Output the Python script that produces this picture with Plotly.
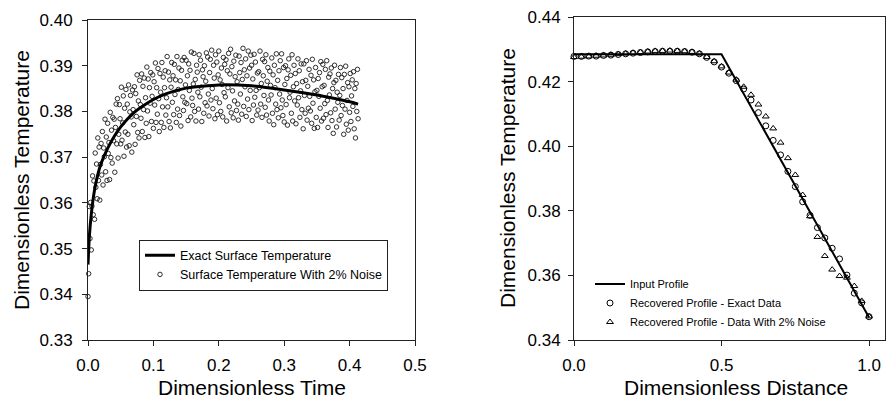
import plotly.graph_objects as go

FONT = "Liberation Sans, Arial, Helvetica, sans-serif"

# ---------------- Left panel: surface temperature vs time ----------------
t_exact = [0.000, 0.002, 0.005, 0.010, 0.015, 0.020, 0.030, 0.040, 0.050, 0.060,
           0.070, 0.080, 0.100, 0.120, 0.150, 0.200, 0.250, 0.300, 0.350, 0.400, 0.413]
y_exact = [0.3465, 0.3525, 0.3575, 0.3628, 0.3662, 0.3686, 0.3719, 0.3745, 0.3766, 0.3783,
           0.3797, 0.3808, 0.3826, 0.3839, 0.3851, 0.3858, 0.3856, 0.3847, 0.3836, 0.3821, 0.3816]

t_noise = [
    0.000, 0.001, 0.002, 0.003, 0.004, 0.005, 0.006, 0.007, 0.008, 0.009,
    0.010, 0.011, 0.012, 0.013, 0.014, 0.015, 0.016, 0.017, 0.018, 0.019,
    0.020, 0.021, 0.022, 0.023, 0.024, 0.025, 0.026, 0.027, 0.028, 0.029,
    0.030, 0.031, 0.032, 0.033, 0.034, 0.035, 0.036, 0.037, 0.038, 0.039,
    0.040, 0.041, 0.042, 0.043, 0.044, 0.045, 0.046, 0.047, 0.048, 0.049,
    0.050, 0.051, 0.052, 0.053, 0.054, 0.055, 0.056, 0.057, 0.058, 0.059,
    0.060, 0.061, 0.062, 0.063, 0.064, 0.065, 0.066, 0.067, 0.068, 0.069,
    0.070, 0.071, 0.072, 0.073, 0.074, 0.075, 0.076, 0.077, 0.078, 0.079,
    0.080, 0.081, 0.082, 0.083, 0.084, 0.085, 0.086, 0.087, 0.088, 0.089,
    0.090, 0.091, 0.092, 0.093, 0.094, 0.095, 0.096, 0.097, 0.098, 0.099,
    0.100, 0.101, 0.102, 0.103, 0.104, 0.105, 0.106, 0.107, 0.108, 0.109,
    0.110, 0.111, 0.112, 0.113, 0.114, 0.115, 0.116, 0.117, 0.118, 0.119,
    0.120, 0.121, 0.122, 0.123, 0.124, 0.125, 0.126, 0.127, 0.128, 0.129,
    0.130, 0.131, 0.132, 0.133, 0.134, 0.135, 0.136, 0.137, 0.138, 0.139,
    0.140, 0.141, 0.142, 0.143, 0.144, 0.145, 0.146, 0.147, 0.148, 0.149,
    0.150, 0.151, 0.152, 0.153, 0.154, 0.155, 0.156, 0.157, 0.158, 0.159,
    0.160, 0.161, 0.162, 0.163, 0.164, 0.165, 0.166, 0.167, 0.168, 0.169,
    0.170, 0.171, 0.172, 0.173, 0.174, 0.175, 0.176, 0.177, 0.178, 0.179,
    0.180, 0.181, 0.182, 0.183, 0.184, 0.185, 0.186, 0.187, 0.188, 0.189,
    0.190, 0.191, 0.192, 0.193, 0.194, 0.195, 0.196, 0.197, 0.198, 0.199,
    0.200, 0.201, 0.202, 0.203, 0.204, 0.205, 0.206, 0.207, 0.208, 0.209,
    0.210, 0.211, 0.212, 0.213, 0.214, 0.215, 0.216, 0.217, 0.218, 0.219,
    0.220, 0.221, 0.222, 0.223, 0.224, 0.225, 0.226, 0.227, 0.228, 0.229,
    0.230, 0.231, 0.232, 0.233, 0.234, 0.235, 0.236, 0.237, 0.238, 0.239,
    0.240, 0.241, 0.242, 0.243, 0.244, 0.245, 0.246, 0.247, 0.248, 0.249,
    0.250, 0.251, 0.252, 0.253, 0.254, 0.255, 0.256, 0.257, 0.258, 0.259,
    0.260, 0.261, 0.262, 0.263, 0.264, 0.265, 0.266, 0.267, 0.268, 0.269,
    0.270, 0.271, 0.272, 0.273, 0.274, 0.275, 0.276, 0.277, 0.278, 0.279,
    0.280, 0.281, 0.282, 0.283, 0.284, 0.285, 0.286, 0.287, 0.288, 0.289,
    0.290, 0.291, 0.292, 0.293, 0.294, 0.295, 0.296, 0.297, 0.298, 0.299,
    0.300, 0.301, 0.302, 0.303, 0.304, 0.305, 0.306, 0.307, 0.308, 0.309,
    0.310, 0.311, 0.312, 0.313, 0.314, 0.315, 0.316, 0.317, 0.318, 0.319,
    0.320, 0.321, 0.322, 0.323, 0.324, 0.325, 0.326, 0.327, 0.328, 0.329,
    0.330, 0.331, 0.332, 0.333, 0.334, 0.335, 0.336, 0.337, 0.338, 0.339,
    0.340, 0.341, 0.342, 0.343, 0.344, 0.345, 0.346, 0.347, 0.348, 0.349,
    0.350, 0.351, 0.352, 0.353, 0.354, 0.355, 0.356, 0.357, 0.358, 0.359,
    0.360, 0.361, 0.362, 0.363, 0.364, 0.365, 0.366, 0.367, 0.368, 0.369,
    0.370, 0.371, 0.372, 0.373, 0.374, 0.375, 0.376, 0.377, 0.378, 0.379,
    0.380, 0.381, 0.382, 0.383, 0.384, 0.385, 0.386, 0.387, 0.388, 0.389,
    0.390, 0.391, 0.392, 0.393, 0.394, 0.395, 0.396, 0.397, 0.398, 0.399,
    0.400, 0.401, 0.402, 0.403, 0.404, 0.405, 0.406, 0.407, 0.408, 0.409,
    0.410, 0.411, 0.412, 0.413,
]
y_noise = [
    0.3395, 0.3445, 0.3592, 0.3522, 0.3601, 0.3497, 0.3593, 0.3659, 0.3574, 0.3648,
    0.3564, 0.3709, 0.3634, 0.3685, 0.3609, 0.3742, 0.3649, 0.3722, 0.3606, 0.3684,
    0.3730, 0.3661, 0.3756, 0.3639, 0.3720, 0.3701, 0.3783, 0.3668, 0.3744, 0.3649,
    0.3774, 0.3708, 0.3732, 0.3651, 0.3798, 0.3699, 0.3759, 0.3687, 0.3787, 0.3736,
    0.3783, 0.3667, 0.3765, 0.3816, 0.3729, 0.3828, 0.3698, 0.3750, 0.3815, 0.3784,
    0.3729, 0.3853, 0.3737, 0.3775, 0.3834, 0.3702, 0.3807, 0.3755, 0.3848, 0.3722,
    0.3816, 0.3750, 0.3858, 0.3725, 0.3799, 0.3835, 0.3788, 0.3711, 0.3847, 0.3804,
    0.3771, 0.3854, 0.3728, 0.3839, 0.3789, 0.3880, 0.3754, 0.3823, 0.3742, 0.3868,
    0.3815, 0.3785, 0.3882, 0.3756, 0.3855, 0.3804, 0.3873, 0.3743, 0.3830, 0.3774,
    0.3897, 0.3801, 0.3871, 0.3745, 0.3852, 0.3818, 0.3885, 0.3778, 0.3833, 0.3880,
    0.3763, 0.3865, 0.3814, 0.3906, 0.3776, 0.3852, 0.3794, 0.3894, 0.3828, 0.3756,
    0.3883, 0.3842, 0.3776, 0.3907, 0.3810, 0.3875, 0.3765, 0.3852, 0.3889, 0.3792,
    0.3830, 0.3920, 0.3810, 0.3886, 0.3778, 0.3869, 0.3764, 0.3853, 0.3907, 0.3820,
    0.3878, 0.3793, 0.3903, 0.3837, 0.3869, 0.3776, 0.3920, 0.3805, 0.3848, 0.3895,
    0.3791, 0.3867, 0.3768, 0.3890, 0.3912, 0.3832, 0.3802, 0.3918, 0.3820, 0.3858,
    0.3912, 0.3817, 0.3878, 0.3780, 0.3904, 0.3846, 0.3890, 0.3788, 0.3930, 0.3829,
    0.3813, 0.3860, 0.3927, 0.3800, 0.3870, 0.3779, 0.3901, 0.3886, 0.3842, 0.3805,
    0.3924, 0.3832, 0.3912, 0.3853, 0.3778, 0.3891, 0.3876, 0.3796, 0.3900, 0.3819,
    0.3866, 0.3928, 0.3812, 0.3919, 0.3838, 0.3790, 0.3885, 0.3914, 0.3825, 0.3934,
    0.3850, 0.3806, 0.3901, 0.3873, 0.3784, 0.3924, 0.3829, 0.3908, 0.3793, 0.3880,
    0.3932, 0.3819, 0.3869, 0.3800, 0.3895, 0.3859, 0.3788, 0.3918, 0.3841, 0.3903,
    0.3832, 0.3913, 0.3779, 0.3889, 0.3852, 0.3927, 0.3810, 0.3882, 0.3936, 0.3797,
    0.3898, 0.3845, 0.3786, 0.3910, 0.3823, 0.3876, 0.3923, 0.3802, 0.3865, 0.3816,
    0.3781, 0.3921, 0.3885, 0.3838, 0.3907, 0.3794, 0.3870, 0.3938, 0.3811, 0.3891,
    0.3854, 0.3915, 0.3789, 0.3878, 0.3827, 0.3932, 0.3804, 0.3895, 0.3846, 0.3923,
    0.3901, 0.3780, 0.3871, 0.3814, 0.3925, 0.3831, 0.3908, 0.3846, 0.3792, 0.3884,
    0.3803, 0.3887, 0.3852, 0.3932, 0.3816, 0.3861, 0.3787, 0.3914, 0.3878, 0.3835,
    0.3909, 0.3809, 0.3924, 0.3792, 0.3866, 0.3896, 0.3825, 0.3779, 0.3888, 0.3857,
    0.3836, 0.3917, 0.3796, 0.3880, 0.3771, 0.3901, 0.3852, 0.3816, 0.3926, 0.3804,
    0.3868, 0.3786, 0.3889, 0.3838, 0.3911, 0.3808, 0.3926, 0.3825, 0.3791, 0.3896,
    0.3777, 0.3859, 0.3900, 0.3815, 0.3872, 0.3770, 0.3891, 0.3915, 0.3830, 0.3842,
    0.3879, 0.3796, 0.3924, 0.3779, 0.3854, 0.3901, 0.3823, 0.3883, 0.3773, 0.3861,
    0.3814, 0.3915, 0.3830, 0.3889, 0.3787, 0.3845, 0.3904, 0.3804, 0.3865, 0.3762,
    0.3904, 0.3835, 0.3796, 0.3868, 0.3911, 0.3781, 0.3855, 0.3807, 0.3892, 0.3833,
    0.3801, 0.3879, 0.3774, 0.3914, 0.3818, 0.3869, 0.3763, 0.3843, 0.3896, 0.3787,
    0.3846, 0.3765, 0.3872, 0.3833, 0.3885, 0.3807, 0.3909, 0.3779, 0.3854, 0.3903,
    0.3785, 0.3857, 0.3817, 0.3892, 0.3793, 0.3911, 0.3824, 0.3765, 0.3875, 0.3836,
    0.3882, 0.3797, 0.3895, 0.3780, 0.3850, 0.3752, 0.3863, 0.3901, 0.3805, 0.3868,
    0.3766, 0.3842, 0.3820, 0.3881, 0.3781, 0.3835, 0.3896, 0.3791, 0.3874, 0.3813,
    0.3850, 0.3750, 0.3881, 0.3805, 0.3899, 0.3772, 0.3824, 0.3863, 0.3759, 0.3854,
    0.3798, 0.3883, 0.3778, 0.3834, 0.3869, 0.3811, 0.3887, 0.3762, 0.3850, 0.3742,
    0.3861, 0.3800, 0.3892, 0.3784,
]

# ---------------- Right panel: recovered profile vs distance ----------------
x_profile = [0.0, 0.5, 1.0]
y_profile = [0.4285, 0.4285, 0.3470]

x_rec = [0.000, 0.025, 0.050, 0.075, 0.100, 0.125, 0.150, 0.175, 0.200, 0.225,
         0.250, 0.275, 0.300, 0.325, 0.350, 0.375, 0.400, 0.425, 0.450, 0.475,
         0.500, 0.525, 0.550, 0.575, 0.600, 0.625, 0.650, 0.675, 0.700, 0.725,
         0.750, 0.775, 0.800, 0.825, 0.850, 0.875, 0.900, 0.925, 0.950, 0.975, 1.000]
y_rec_exact = [0.4278, 0.4278, 0.4279, 0.4279, 0.4281, 0.4282, 0.4284, 0.4286, 0.4288, 0.4290,
               0.4292, 0.4293, 0.4294, 0.4294, 0.4294, 0.4293, 0.4291, 0.4286, 0.4275, 0.4261,
               0.4245, 0.4226, 0.4203, 0.4177, 0.4143, 0.4104, 0.4063, 0.4018, 0.3973, 0.3922,
               0.3875, 0.3828, 0.3786, 0.3748, 0.3716, 0.3684, 0.3651, 0.3601, 0.3545, 0.3515, 0.3472]
y_rec_noise = [0.4276, 0.4277, 0.4278, 0.4280, 0.4281, 0.4283, 0.4285, 0.4287, 0.4289, 0.4291,
               0.4293, 0.4295, 0.4295, 0.4296, 0.4295, 0.4294, 0.4292, 0.4287, 0.4276, 0.4263,
               0.4247, 0.4228, 0.4206, 0.4184, 0.4159, 0.4129, 0.4092, 0.4055, 0.4011, 0.3963,
               0.3911, 0.3849, 0.3783, 0.3719, 0.3660, 0.3618, 0.3598, 0.3593, 0.3567, 0.3521, 0.3473]

W, H = 891, 402

fig = go.Figure()

fig.add_trace(go.Scatter(
    x=t_noise, y=y_noise, mode="markers", name="Surface Temperature With 2% Noise",
    marker=dict(symbol="circle-open", size=4.5, color="#1a1a1a", line=dict(width=0.9)),
    xaxis="x", yaxis="y", legend="legend", legendrank=2, cliponaxis=False,
))
fig.add_trace(go.Scatter(
    x=t_exact, y=y_exact, mode="lines", name="Exact Surface Temperature",
    line=dict(color="black", width=3, shape="spline", smoothing=0.6),
    xaxis="x", yaxis="y", legend="legend", legendrank=1,
))

fig.add_trace(go.Scatter(
    x=x_profile, y=y_profile, mode="lines", name="Input Profile",
    line=dict(color="black", width=2),
    xaxis="x2", yaxis="y2", legend="legend2", legendrank=1,
))
fig.add_trace(go.Scatter(
    x=x_rec, y=y_rec_exact, mode="markers", name="Recovered Profile - Exact Data",
    marker=dict(symbol="circle-open", size=6, color="black", line=dict(width=1)),
    xaxis="x2", yaxis="y2", legend="legend2", legendrank=2, cliponaxis=False,
))
fig.add_trace(go.Scatter(
    x=x_rec, y=y_rec_noise, mode="markers", name="Recovered Profile - Data With 2% Noise",
    marker=dict(symbol="triangle-up-open", size=6, color="black", line=dict(width=1)),
    xaxis="x2", yaxis="y2", legend="legend2", legendrank=3, cliponaxis=False,
))

axis_common = dict(
    showline=True, mirror=True, linecolor="#222", linewidth=1,
    ticks="outside", ticklen=5, tickwidth=1, tickcolor="#222",
    showgrid=False, zeroline=False, automargin=False,
    tickfont=dict(family=FONT, size=17, color="black"),
)

fig.update_layout(
    width=W, height=H, autosize=False,
    margin=dict(l=0, r=0, t=0, b=0, pad=0, autoexpand=False),
    paper_bgcolor="white", plot_bgcolor="white",
    font=dict(family=FONT, color="black"),
    xaxis=dict(domain=[88 / W, 415 / W], anchor="y", range=[0, 0.5], tick0=0, dtick=0.1,
               tickformat=".1f", ticklabelstandoff=5, **axis_common),
    yaxis=dict(domain=[62 / H, 382 / H], anchor="x", range=[0.33, 0.40], tick0=0.33, dtick=0.01,
               tickformat=".2f", ticklabelstandoff=6, **axis_common),
    xaxis2=dict(domain=[574 / W, 885 / W], anchor="y2", range=[0, 1.054], tickvals=[0, 0.5, 1.0],
                tickformat=".1f", ticklabelstandoff=5, **axis_common),
    yaxis2=dict(domain=[62 / H, 385 / H], anchor="x2", range=[0.34, 0.44], tick0=0.34, dtick=0.02,
                tickformat=".2f", ticklabelstandoff=4, **axis_common),
    legend=dict(x=139 / W, xanchor="left", y=(H - 265) / H, yanchor="middle",
                bgcolor="white", bordercolor="#222", borderwidth=1,
                font=dict(family=FONT, size=12.5, color="black"), tracegroupgap=0),
    legend2=dict(x=590 / W, xanchor="left", y=(H - 303) / H, yanchor="middle",
                 bgcolor="rgba(0,0,0,0)", borderwidth=0,
                 font=dict(family=FONT, size=11, color="black"), tracegroupgap=0),
    showlegend=True,
    annotations=[
        dict(text="Dimensionless Time", x=252 / W, y=1.5 / H, xref="paper", yref="paper",
             xanchor="center", yanchor="bottom", showarrow=False, font=dict(family=FONT, size=21)),
        dict(text="Dimensionless Temperature", x=22 / W, y=(H - 180) / H, xref="paper", yref="paper",
             xanchor="center", yanchor="middle", textangle=-90, showarrow=False,
             font=dict(family=FONT, size=21)),
        dict(text="Dimensionless Distance", x=736 / W, y=1.5 / H, xref="paper", yref="paper",
             xanchor="center", yanchor="bottom", showarrow=False, font=dict(family=FONT, size=21)),
        dict(text="Dimensionless Temperature", x=507 / W, y=(H - 178) / H, xref="paper", yref="paper",
             xanchor="center", yanchor="middle", textangle=-90, showarrow=False,
             font=dict(family=FONT, size=21)),
    ],
)

# remove the browser's default 8px page margin so the figure sits at the window's corner
fig.write_html(
    "out.html",
    config={"displayModeBar": False},
    post_script="document.body.style.margin='0px';document.body.style.overflow='hidden';",
)
